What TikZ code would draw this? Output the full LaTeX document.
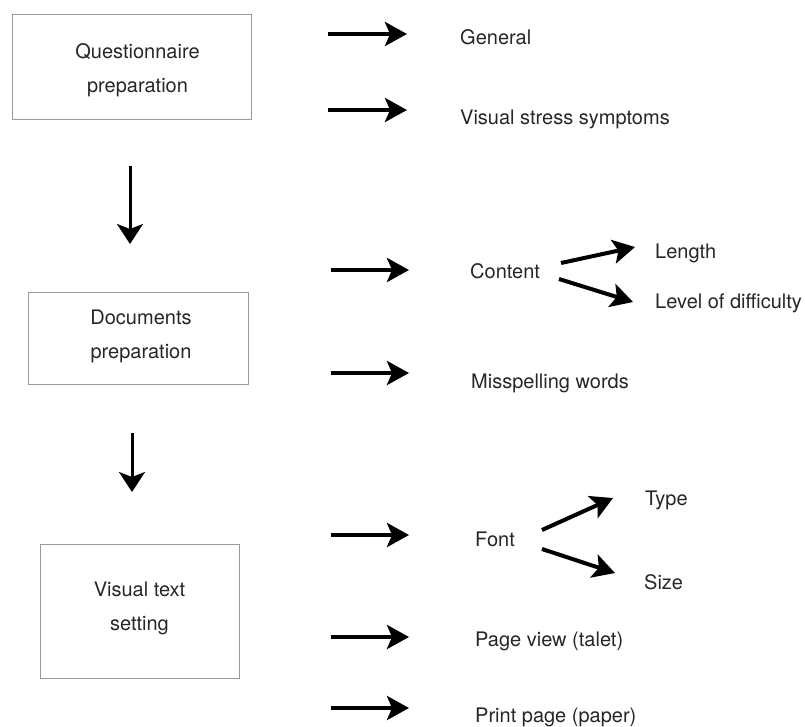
\documentclass[tikz,border=0pt]{standalone}
\usepackage{fontspec}
\setmainfont{TeX Gyre Heros}
\usetikzlibrary{arrows.meta}

\begin{document}
\begin{tikzpicture}[x=1pt,y=-1pt,
  stage/.style={draw=black!40, line width=0.8pt, inner sep=0pt},
  stagetext/.style={align=center, text=black!85, inner sep=0pt,
    font=\fontsize{20}{34}\selectfont},
  lbl/.style={anchor=base west, inner sep=0pt, text=black!85,
    font=\fontsize{20}{22}\selectfont},
  bigarrow/.style={line width=4pt, -{Stealth[length=22pt,width=24pt,inset=5pt]}},
  downarrow/.style={line width=3pt, -{Stealth[length=20pt,width=26pt,inset=5pt]}}]

\useasboundingbox (0,0) rectangle (805,726);

% process stages
\node[stage, minimum width=239pt, minimum height=105pt,
  label={[stagetext, xshift=6pt, yshift=-4pt]center:Questionnaire\\preparation}]
  (q) at (131.5,66.5) {};
\node[stage, minimum width=220pt, minimum height=92pt,
  label={[stagetext, xshift=3pt, yshift=2pt]center:Documents\\preparation}]
  (d) at (138,338) {};
\node[stage, minimum width=199pt, minimum height=134pt,
  label={[stagetext, yshift=3pt]center:Visual text\\setting}]
  (v) at (139.5,611) {};

% arrows between stages
\coordinate (qd1) at (130,166); \coordinate (qd2) at (130,244);
\coordinate (dv1) at (132,433); \coordinate (dv2) at (132,492);
\draw[downarrow] (qd1) -- (qd2);
\draw[downarrow] (dv1) -- (dv2);

% items of each stage
\node[lbl] (gen) at (460,44) {General};
\node[lbl] (vss) at (460,124) {Visual stress symptoms};
\node[lbl] (con) at (470,278) {Content};
\node[lbl] (len) at (655,258) {Length};
\node[lbl] (lvl) at (655,308) {Level of difficulty};
\node[lbl] (mis) at (471,388) {Misspelling words};
\node[lbl] (fnt) at (475,546) {Font};
\node[lbl] (typ) at (645,505) {Type};
\node[lbl] (siz) at (644,589) {Size};
\node[lbl] (pgv) at (475,646) {Page view (talet)};
\node[lbl] (prp) at (475,722) {Print page (paper)};

% arrow end points
\coordinate (a1s) at (328,34);  \coordinate (a1e) at (407,34);
\coordinate (a2s) at (328,110); \coordinate (a2e) at (407,110);
\coordinate (a3s) at (331,270); \coordinate (a3e) at (409,270);
\coordinate (a4s) at (331,373); \coordinate (a4e) at (409,373);
\coordinate (a5s) at (331,535); \coordinate (a5e) at (409,535);
\coordinate (a6s) at (331,637); \coordinate (a6e) at (409,637);
\coordinate (a7s) at (331,708); \coordinate (a7e) at (409,708);
\foreach \i in {1,...,7} \draw[bigarrow] (a\i s) -- (a\i e);

% branching arrows
\coordinate (c1s) at (561,263); \coordinate (c1e) at (635,247);
\coordinate (c2s) at (559,279); \coordinate (c2e) at (633,302);
\coordinate (f1s) at (542,530); \coordinate (f1e) at (613,498);
\coordinate (f2s) at (542,549); \coordinate (f2e) at (615,573);
\draw[bigarrow] (c1s) -- (c1e);
\draw[bigarrow] (c2s) -- (c2e);
\draw[bigarrow] (f1s) -- (f1e);
\draw[bigarrow] (f2s) -- (f2e);
\end{tikzpicture}
\end{document}
